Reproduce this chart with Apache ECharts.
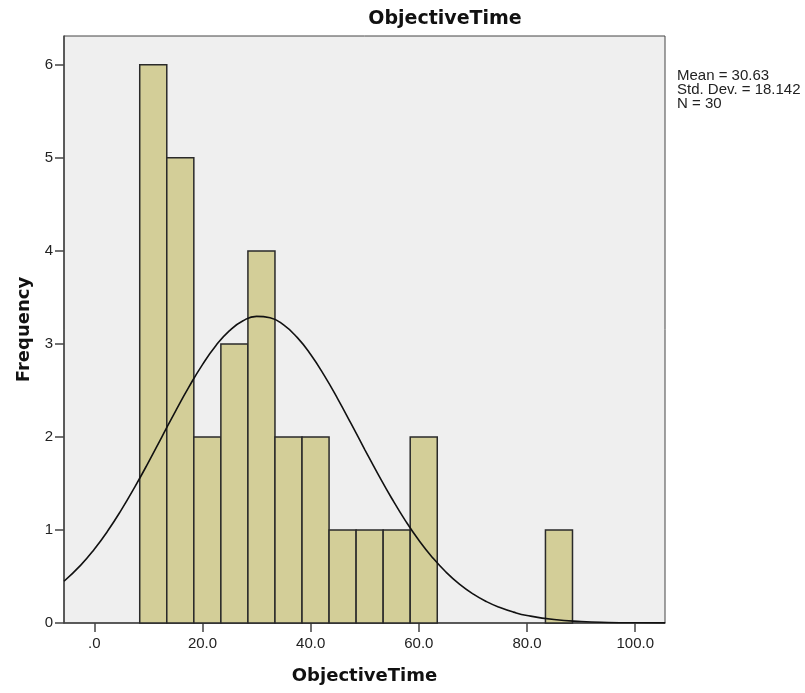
<!DOCTYPE html>
<html>
<head>
<meta charset="utf-8">
<script src="https://cdn.jsdelivr.net/npm/echarts@6/dist/echarts.min.js"></script>
<style>html,body{margin:0;padding:0;background:#fff;}#c{width:805px;height:693px;}</style>
</head>
<body>
<div id="c"></div>
<script>
// Histogram bins (ObjectiveTime) and frequencies
const binLower = [8.4, 13.4, 18.4, 23.4, 28.4, 33.4, 38.4, 43.4, 48.4, 53.4, 58.4, 63.4, 68.4, 73.4, 78.4, 83.4];
const binUpper = [13.4, 18.4, 23.4, 28.4, 33.4, 38.4, 43.4, 48.4, 53.4, 58.4, 63.4, 68.4, 73.4, 78.4, 83.4, 88.4];
const counts   = [6, 5, 2, 3, 4, 2, 2, 1, 1, 1, 2, 0, 0, 0, 0, 1];
// Fitted normal curve
const curveX = [-5.6, -2.5, 0, 2.5, 5, 7.5, 10, 12.5, 15, 17.5, 20, 22.5, 25, 27.5, 30, 32.5, 35, 37.5, 40, 42.5, 45, 47.5, 50, 52.5, 55, 57.5, 60, 62.5, 65, 67.5, 70, 72.5, 75, 77.5, 80, 85, 90, 95, 100, 105.5];
const curveY = [0.449, 0.622, 0.793, 0.991, 1.216, 1.463, 1.727, 2.002, 2.276, 2.538, 2.778, 2.983, 3.143, 3.249, 3.296, 3.281, 3.204, 3.070, 2.886, 2.662, 2.410, 2.140, 1.865, 1.595, 1.338, 1.101, 0.889, 0.705, 0.548, 0.418, 0.313, 0.230, 0.166, 0.117, 0.081, 0.037, 0.016, 0.006, 0.002, 0.001];
const xTicks = [0, 20, 40, 60, 80, 100];
const yTicks = [0, 1, 2, 3, 4, 5, 6];
const statsLines = ['Mean = 30.63', 'Std. Dev. = 18.142', 'N = 30'];
const titleText = 'ObjectiveTime';
const xName = 'ObjectiveTime';
const yName = 'Frequency';

const barData = binLower.map((lo, i) => [lo, binUpper[i], counts[i]]).filter(d => d[2] > 0);
const curveData = curveX.map((x, i) => [x, curveY[i]]);

const chart = echarts.init(document.getElementById('c'), null, {renderer: 'canvas'});
const axisCol = '#444';
const option = {
  animation: false,
  backgroundColor: '#ffffff',
  title: {
    text: titleText, left: 440, top: 5, textAlign: 'center',
    textStyle: {fontFamily: 'DejaVu Sans', fontWeight: 'bold', fontSize: 19, color: '#111'}
  },
  grid: {
    left: 64, right: 140, top: 36, bottom: 70,
    show: true, backgroundColor: '#efefef', borderColor: axisCol, borderWidth: 1
  },
  xAxis: {
    type: 'value', min: -5.6, max: 105.5,
    name: xName, nameLocation: 'middle', nameGap: 44,
    nameTextStyle: {fontFamily: 'DejaVu Sans', fontWeight: 'bold', fontSize: 18, color: '#111'},
    axisLine: {show: true, onZero: false, lineStyle: {color: axisCol, width: 1.5}},
    axisTick: {show: true, inside: false, customValues: xTicks, length: 9, lineStyle: {color: axisCol, width: 1.5}},
    axisLabel: {customValues: xTicks, fontFamily: 'Liberation Sans', fontSize: 15, color: '#222', margin: 13,
      formatter: v => v === 0 ? '.0' : v.toFixed(1)},
    splitLine: {show: false}
  },
  yAxis: {
    type: 'value', min: 0, max: 6.31,
    name: yName, nameLocation: 'middle', nameGap: 30, nameRotate: 90,
    nameTextStyle: {fontFamily: 'DejaVu Sans', fontWeight: 'bold', fontSize: 18, color: '#111'},
    axisLine: {show: true, onZero: false, lineStyle: {color: axisCol, width: 1.5}},
    axisTick: {show: true, inside: false, customValues: yTicks, length: 9, lineStyle: {color: axisCol, width: 1.5}},
    axisLabel: {customValues: yTicks, fontFamily: 'Liberation Sans', fontSize: 15, color: '#222', margin: 11},
    splitLine: {show: false}
  },
  graphic: [{
    type: 'text', left: 677, top: 68,
    style: {text: statsLines.join('\n'), font: '15px "Liberation Sans"', lineHeight: 14, fill: '#222'}
  }],
  series: [{
    type: 'custom',
    data: barData,
    encode: {x: [0, 1], y: 2},
    renderItem: function (params, api) {
      const p0 = api.coord([api.value(0), api.value(2)]);
      const p1 = api.coord([api.value(1), 0]);
      return {
        type: 'rect',
        shape: {x: p0[0], y: p0[1], width: p1[0] - p0[0], height: p1[1] - p0[1]},
        style: {fill: '#d3ce98', stroke: '#2a2a2a', lineWidth: 1.5}
      };
    },
    z: 2
  }, {
    type: 'line',
    data: curveData,
    smooth: true,
    symbol: 'none',
    lineStyle: {color: '#111', width: 1.6},
    z: 3
  }]
};
chart.setOption(option);
</script>
</body>
</html>
